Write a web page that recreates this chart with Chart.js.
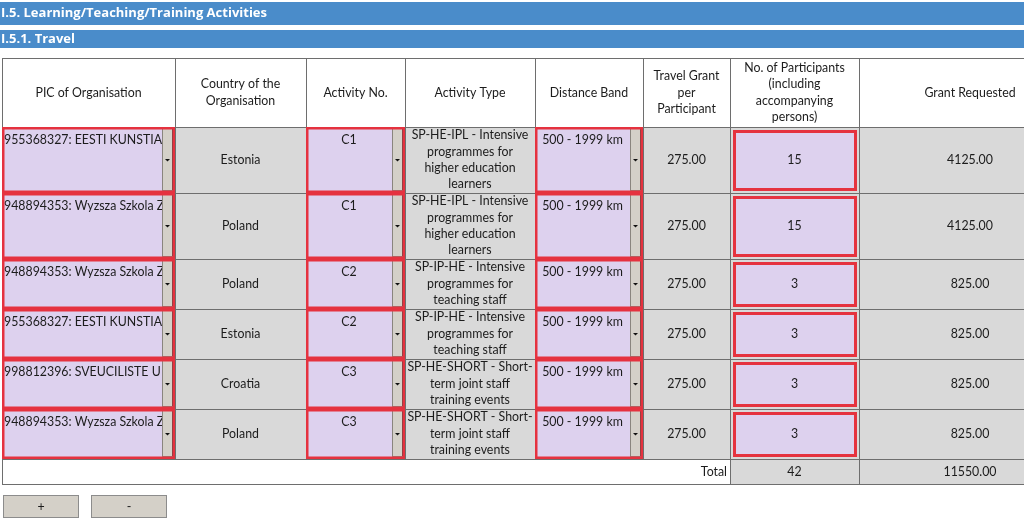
<!DOCTYPE html>
<html>
<head>
<meta charset="utf-8">
<script src="https://cdn.jsdelivr.net/npm/chart.js@4.4.1/dist/chart.umd.min.js"></script>
<style>
  html, body { margin: 0; padding: 0; background: #fff; overflow: hidden; }
  canvas { display: block; }
</style>
</head>
<body>
<canvas id="travel-table" width="1024" height="519"></canvas>
<script>
// table content
const sectionTitle = 'I.5. Learning/Teaching/Training Activities';
const subTitle = 'I.5.1. Travel';
const headers = [
  ['PIC of Organisation'],
  ['Country of the', 'Organisation'],
  ['Activity No.'],
  ['Activity Type'],
  ['Distance Band'],
  ['Travel Grant', 'per', 'Participant'],
  ['No. of Participants', '(including', 'accompanying', 'persons)'],
  ['Grant Requested']
];
const pics = [
  '955368327: EESTI KUNSTIAKADEEMIA',
  '948894353: Wyzsza Szkola Zarzadzania',
  '948894353: Wyzsza Szkola Zarzadzania',
  '955368327: EESTI KUNSTIAKADEEMIA',
  '998812396: SVEUCILISTE U DUBROVNIKU',
  '948894353: Wyzsza Szkola Zarzadzania'
];
const countries = ['Estonia', 'Poland', 'Poland', 'Estonia', 'Croatia', 'Poland'];
const activityNos = ['C1', 'C1', 'C2', 'C2', 'C3', 'C3'];
const activityTypes = [
  ['SP-HE-IPL - Intensive', 'programmes for', 'higher education', 'learners'],
  ['SP-HE-IPL - Intensive', 'programmes for', 'higher education', 'learners'],
  ['SP-IP-HE - Intensive', 'programmes for', 'teaching staff'],
  ['SP-IP-HE - Intensive', 'programmes for', 'teaching staff'],
  ['SP-HE-SHORT - Short-', 'term joint staff', 'training events'],
  ['SP-HE-SHORT - Short-', 'term joint staff', 'training events']
];
const distanceBands = ['500 - 1999 km', '500 - 1999 km', '500 - 1999 km', '500 - 1999 km', '500 - 1999 km', '500 - 1999 km'];
const grantPerParticipant = [275, 275, 275, 275, 275, 275];
const participants = [15, 15, 3, 3, 3, 3];
const grantRequested = [4125, 4125, 825, 825, 825, 825];
const totalParticipants = 42;
const totalGrant = 11550;
const buttonLabels = ['+', '-'];

// layout (table units = pixels on the scales)
const colEdges = [2, 175, 306, 405, 535, 643, 730, 859, 1090];
const rowEdges = [58, 127, 193, 259, 309, 359, 409, 459, 484];
const colKinds = ['select', 'text', 'select', 'wrap', 'select', 'text', 'input', 'amount'];

const FONT = '"Lato", "Open Sans", sans-serif';
const BOLD = 'bold 13px "Open Sans", sans-serif';
const BLUE = '#4a8cca';
const PURPLE = '#ddd1ee';
const RED = '#e5323f';
const GREY = '#d9d9d9';
const LINE = '#6e6e6e';
const TEXT = '#1c1c1c';
const SQUEEZE = 0.95;

const tablePlugin = {
  id: 'travelTable',
  afterDraw(chart) {
    const ctx = chart.ctx;
    const X = (v) => chart.scales.x.getPixelForValue(v);
    const Y = (v) => chart.scales.y.getPixelForValue(v);

    const box = (x0, y0, x1, y1, fill) => {
      ctx.fillStyle = fill;
      ctx.fillRect(X(x0), Y(y0), X(x1) - X(x0), Y(y1) - Y(y0));
    };
    const text = (str, x, y, align, font, color, squeeze) => {
      ctx.save();
      ctx.font = font || '13px ' + FONT;
      ctx.fillStyle = color || TEXT;
      ctx.textAlign = align || 'center';
      ctx.textBaseline = 'middle';
      ctx.translate(X(x), Y(y));
      ctx.scale(squeeze || SQUEEZE, 1);
      ctx.fillText(str, 0, 0);
      ctx.restore();
    };
    const hline = (x0, x1, y, color) => {
      ctx.strokeStyle = color || LINE;
      ctx.lineWidth = 1;
      ctx.beginPath();
      ctx.moveTo(X(x0), Y(y) + 0.5);
      ctx.lineTo(X(x1), Y(y) + 0.5);
      ctx.stroke();
    };
    const vline = (x, y0, y1, color) => {
      ctx.strokeStyle = color || LINE;
      ctx.lineWidth = 1;
      ctx.beginPath();
      ctx.moveTo(X(x) + 0.5, Y(y0));
      ctx.lineTo(X(x) + 0.5, Y(y1));
      ctx.stroke();
    };
    const redFrame = (x0, y0, x1, y1, w) => {
      ctx.strokeStyle = RED;
      ctx.lineWidth = w;
      ctx.strokeRect(X(x0) + w / 2, Y(y0) + w / 2, X(x1) - X(x0) - w, Y(y1) - Y(y0) - w);
    };

    ctx.save();

    // title bars
    box(0, 2, 1024, 25, BLUE);
    text(sectionTitle, 1, 13.5, 'left', BOLD, '#fff', 1);
    box(0, 30, 1024, 48, BLUE);
    text(subTitle, 1, 39, 'left', BOLD, '#fff', 1);

    // header row
    headers.forEach((lines, j) => {
      const cx = j === 7 ? 970 : (colEdges[j] + colEdges[j + 1]) / 2;
      const mid = (rowEdges[0] + rowEdges[1]) / 2;
      const start = mid - (lines.length - 1) * 16.4 / 2;
      lines.forEach((ln, k) => text(ln, cx, start + k * 16.4));
    });

    // body rows
    const cellValues = [
      pics, countries, activityNos, activityTypes, distanceBands,
      grantPerParticipant.map((v) => v.toFixed(2)),
      participants.map(String),
      grantRequested.map((v) => v.toFixed(2))
    ];

    for (let i = 0; i < pics.length; i++) {
      const y0 = rowEdges[i + 1];
      const y1 = rowEdges[i + 2];
      const mid = (y0 + y1) / 2;
      colKinds.forEach((kind, j) => {
        const x0 = colEdges[j];
        const x1 = colEdges[j + 1];
        const value = cellValues[j][i];
        if (kind === 'select') {
          box(x0, y0, x1, y1, PURPLE);
          const bx0 = x1 - 13;
          ctx.save();
          ctx.beginPath();
          ctx.rect(X(x0), Y(y0), X(bx0) - X(x0), Y(y1) - Y(y0));
          ctx.clip();
          if (j === 0) text(value, x0 + 2, y0 + 13, 'left');
          else text(value, (x0 + bx0) / 2, y0 + 13);
          ctx.restore();
          // dropdown button
          box(bx0, y0 + 2, x1 - 2, y1 - 2, '#d4d0c8');
          vline(bx0, y0 + 2, y1 - 2, '#8a857e');
          vline(x1 - 3, y0 + 2, y1 - 2, '#4f4a45');
          hline(bx0, x1 - 2, y1 - 3, '#8a857e');
          ctx.fillStyle = '#111';
          ctx.beginPath();
          const ax = X(bx0 + 5.5);
          const ay = Y(mid);
          ctx.moveTo(ax - 2.5, ay - 1);
          ctx.lineTo(ax + 2.5, ay - 1);
          ctx.lineTo(ax, ay + 1.5);
          ctx.closePath();
          ctx.fill();
        } else if (kind === 'input') {
          box(x0, y0, x1, y1, GREY);
          box(x0 + 3, y0 + 3, x1 - 2, y1 - 2, PURPLE);
          redFrame(x0 + 3, y0 + 3, x1 - 2, y1 - 2, 3);
          text(value, (x0 + x1) / 2, mid);
        } else if (kind === 'wrap') {
          box(x0, y0, x1, y1, GREY);
          value.forEach((ln, k) => text(ln, (x0 + x1) / 2, y0 + 8 + k * 16.4));
        } else if (kind === 'amount') {
          box(x0, y0, x1, y1, GREY);
          text(value, 970, mid);
        } else {
          box(x0, y0, x1, y1, GREY);
          text(value, (x0 + x1) / 2, mid);
        }
      });
    }

    // total row
    const ty0 = rowEdges[7];
    const ty1 = rowEdges[8];
    box(colEdges[6], ty0, colEdges[7], ty1, GREY);
    box(colEdges[7], ty0, colEdges[8], ty1, GREY);
    text('Total', colEdges[6] - 3, (ty0 + ty1) / 2, 'right');
    text(String(totalParticipants), (colEdges[6] + colEdges[7]) / 2, (ty0 + ty1) / 2);
    text(totalGrant.toFixed(2), 970, (ty0 + ty1) / 2);

    // grid lines
    rowEdges.forEach((y) => hline(colEdges[0], 1024, y));
    colEdges.slice(0, 8).forEach((x) => vline(x, rowEdges[0], rowEdges[7]));
    [colEdges[0], colEdges[6], colEdges[7]].forEach((x) => vline(x, ty0, ty1 + 1));

    // red frames on top of grid
    for (let i = 0; i < pics.length; i++) {
      const y0 = rowEdges[i + 1];
      const y1 = rowEdges[i + 2];
      [0, 2, 4].forEach((j) => redFrame(colEdges[j], y0, colEdges[j + 1], y1, 2.5));
    }

    // buttons
    [[3, 79], [91, 167]].forEach(([bx0, bx1], k) => {
      box(bx0, 495, bx1, 518, '#d4d0c8');
      ctx.strokeStyle = '#8c8c8c';
      ctx.lineWidth = 1;
      ctx.strokeRect(X(bx0) + 0.5, Y(495) + 0.5, X(bx1) - X(bx0) - 1, Y(518) - Y(495) - 1);
      text(buttonLabels[k], (bx0 + bx1) / 2, 506.5);
    });

    ctx.restore();
  }
};

new Chart(document.getElementById('travel-table'), {
  type: 'scatter',
  data: { datasets: [] },
  options: {
    responsive: false,
    animation: false,
    events: [],
    layout: { padding: 0 },
    plugins: { legend: { display: false }, tooltip: { enabled: false } },
    scales: {
      x: { type: 'linear', min: 0, max: 1024, display: false },
      y: { type: 'linear', min: 0, max: 519, reverse: true, display: false }
    }
  },
  plugins: [tablePlugin]
});
</script>
</body>
</html>
